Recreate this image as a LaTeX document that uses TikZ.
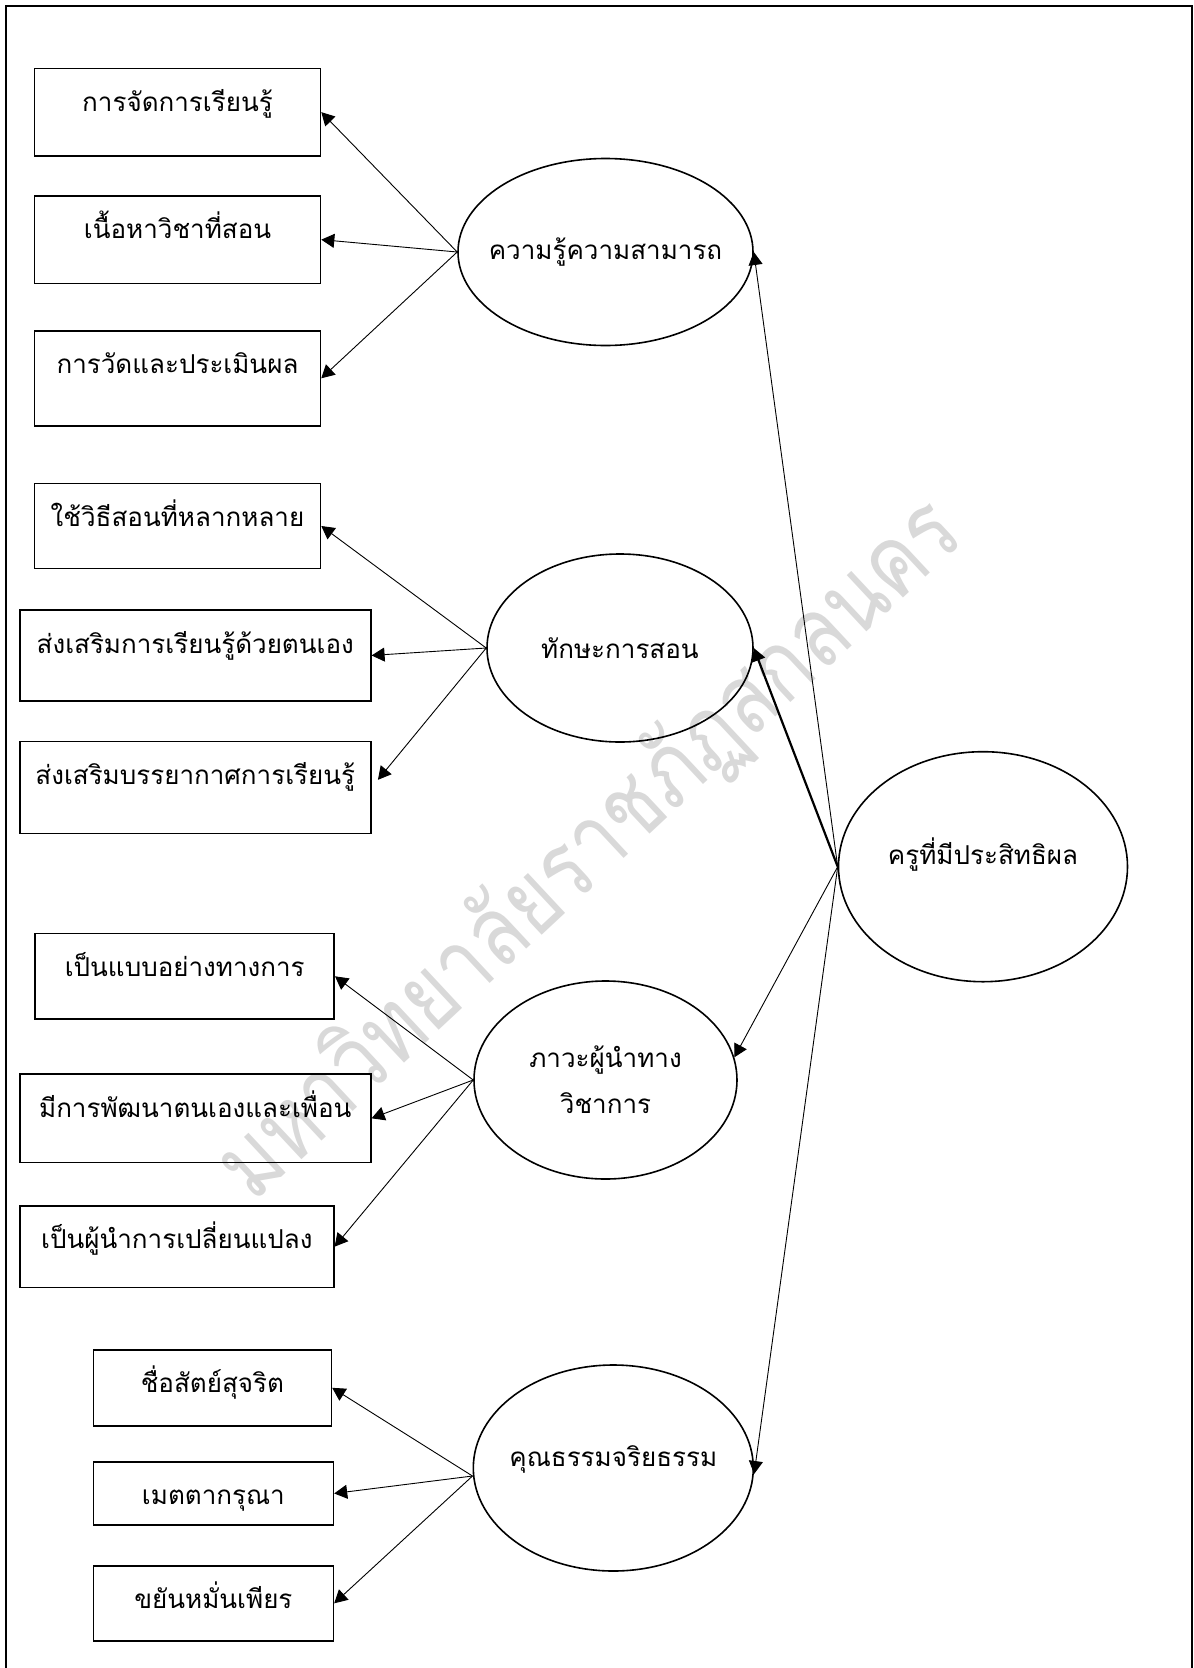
\documentclass[tikz,border=0pt]{standalone}
\usepackage{fontspec}
\setmainfont[Script=Thai]{Loma}
\newfontfamily\markfont[Script=Thai,FakeStretch=0.81]{Loma}
\usetikzlibrary{positioning,shapes.geometric,arrows.meta}
\newcommand{\latlabel}[1]{\makebox[0pt]{#1}}

\begin{document}
\begin{tikzpicture}[x=1pt,y=-1pt,
		every node/.style={font=\fontsize{26}{32}\selectfont},
		obs/.style={draw,line width=1.6pt,inner sep=0pt,anchor=north west,text height=43pt,text depth=#1},
		lat/.style={draw,ellipse,line width=1.6pt,inner sep=0pt,align=center},
		latup/.style={lat,text height=12pt,text depth=16pt},
		link/.style={-{Triangle[length=13pt,width=14pt]},line width=0.9pt}]
		\useasboundingbox (0,0) rectangle (1194,1668);
		\node[rotate=43,text=gray!30,font=\markfont\fontsize{98}{98}\selectfont] (mark) at (590,850) {มหาวิทยาลัยราชภัฏสกลนคร};
		\draw[line width=1.6pt] (5.7,1675) -- (5.7,5.7) -- (1192,5.7) -- (1192,1675);
		\node[obs=44.3pt,minimum width=286pt] (b1) at (33.7,67.7) {การจัดการเรียนรู้};
		\node[obs=44.7pt,minimum width=286pt] (b2) at (33.7,195) {เนื้อหาวิชาที่สอน};
		\node[obs=52pt,minimum width=286pt] (b3) at (33.7,330) {การวัดและประเมินผล};
		\node[obs=42pt,minimum width=286pt] (b4) at (33.7,482.7) {ใช้วิธีสอนที่หลากหลาย};
		\node[obs=47.7pt,minimum width=351pt] (b5) at (19,609.3) {ส่งเสริมการเรียนรู้ด้วยตนเอง};
		\node[obs=49pt,minimum width=351pt] (b6) at (19,740.7) {ส่งเสริมบรรยากาศการเรียนรู้};
		\node[obs=42.6pt,minimum width=299pt] (b7) at (34.4,932.7) {เป็นแบบอย่างทางการ};
		\node[obs=45.4pt,minimum width=351pt] (b8) at (19,1073.3) {มีการพัฒนาตนเองและเพื่อน};
		\node[obs=38.7pt,minimum width=314pt] (b9) at (19,1205) {เป็นผู้นำการเปลี่ยนแปลง};
		\node[obs=33pt,minimum width=238pt] (b10) at (92.6,1349) {ชื่อสัตย์สุจริต};
		\node[obs=20.3pt,minimum width=240pt] (b11) at (92.6,1461) {เมตตากรุณา};
		\node[obs=32pt,minimum width=240pt] (b12) at (92.6,1565) {ขยันหมั่นเพียร};
		\node[lat,minimum width=295pt,minimum height=187pt] (know) at (605.5,252) {\latlabel{ความรู้ความสามารถ}};
		\node[lat,minimum width=266pt,minimum height=188pt] (skill) at (620,648) {\latlabel{ทักษะการสอน}};
		\node[lat,minimum width=263pt,minimum height=198pt] (lead) at (605.5,1080) {\latlabel{ภาวะผู้นำทาง}\\[14pt]\latlabel{วิชาการ}};
		\node[latup,minimum width=280pt,minimum height=206pt] (moral) at (613.3,1468) {\latlabel{คุณธรรมจริยธรรม}};
		\node[latup,minimum width=289pt,minimum height=230pt] (teach) at (983,866.7) {\latlabel{ครูที่มีประสิทธิผล}};
		\foreach \b in {b1,b2,b3} \draw[link] (know.west) -- (\b.east);
		\foreach \b in {b4,b5} \draw[link] (skill.west) -- (\b.east);
		\draw[link,shorten >=10pt] (skill.west) -- (b6.east);
		\foreach \b in {b7,b8,b9} \draw[link] (lead.west) -- (\b.east);
		\foreach \b in {b10,b11,b12} \draw[link] ([yshift=-8pt]moral.west) -- (\b.east);
		\draw[link] (teach.west) -- (know.east);
		\draw[link,line width=2.2pt] (teach.west) -- (skill.east);
		\draw[link] (teach.west) -- (lead.10);
		\draw[link] (teach.west) -- ([yshift=-6pt]moral.east);
\end{tikzpicture}
\end{document}
